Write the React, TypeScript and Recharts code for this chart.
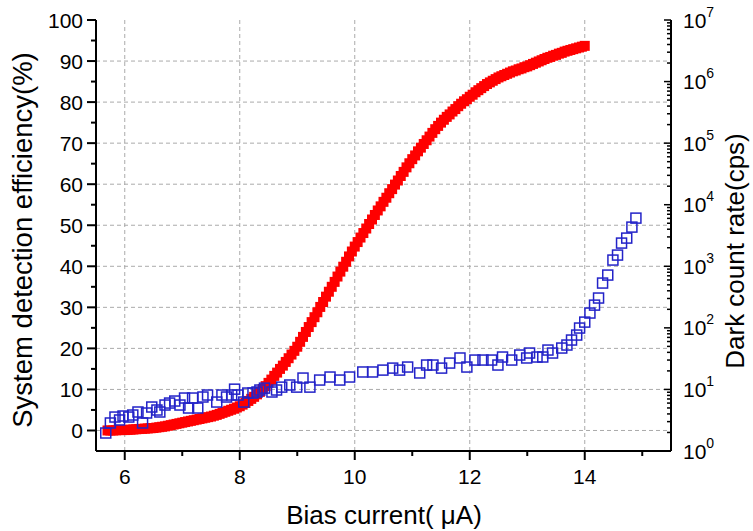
import React from 'react'
import {
  ScatterChart,
  Scatter,
  XAxis,
  YAxis,
  CartesianGrid
} from 'recharts'

// efficiency curve (filled red squares), one row per µA
const effBias = [
  5.7, 5.75, 5.8, 5.85, 5.9, 5.95,
  6.0, 6.05, 6.1, 6.15, 6.2, 6.25, 6.3, 6.35, 6.4, 6.45, 6.5, 6.55, 6.6, 6.65, 6.7, 6.75, 6.8, 6.85, 6.9, 6.95,
  7.0, 7.05, 7.1, 7.15, 7.2, 7.25, 7.3, 7.35, 7.4, 7.45, 7.5, 7.55, 7.6, 7.65, 7.7, 7.75, 7.8, 7.85, 7.9, 7.95,
  8.0, 8.05, 8.1, 8.15, 8.2, 8.25, 8.3, 8.35, 8.4, 8.45, 8.5, 8.55, 8.6, 8.65, 8.7, 8.75, 8.8, 8.85, 8.9, 8.95,
  9.0, 9.05, 9.1, 9.15, 9.2, 9.25, 9.3, 9.35, 9.4, 9.45, 9.5, 9.55, 9.6, 9.65, 9.7, 9.75, 9.8, 9.85, 9.9, 9.95,
  10.0, 10.05, 10.1, 10.15, 10.2, 10.25, 10.3, 10.35, 10.4, 10.45, 10.5, 10.55, 10.6, 10.65, 10.7, 10.75, 10.8, 10.85, 10.9, 10.95,
  11.0, 11.05, 11.1, 11.15, 11.2, 11.25, 11.3, 11.35, 11.4, 11.45, 11.5, 11.55, 11.6, 11.65, 11.7, 11.75, 11.8, 11.85, 11.9, 11.95,
  12.0, 12.05, 12.1, 12.15, 12.2, 12.25, 12.3, 12.35, 12.4, 12.45, 12.5, 12.55, 12.6, 12.65, 12.7, 12.75, 12.8, 12.85, 12.9, 12.95,
  13.0, 13.05, 13.1, 13.15, 13.2, 13.25, 13.3, 13.35, 13.4, 13.45, 13.5, 13.55, 13.6, 13.65, 13.7, 13.75, 13.8, 13.85, 13.9, 13.95,
  14.0
]
const efficiency = [
  0.0, 0.0, 0.0, 0.05, 0.1, 0.1,
  0.1, 0.15, 0.2, 0.25, 0.3, 0.35, 0.4, 0.45, 0.5, 0.55, 0.6, 0.7, 0.8, 0.9, 1.0, 1.15, 1.3, 1.45, 1.6, 1.75,
  1.9, 2.05, 2.2, 2.35, 2.5, 2.65, 2.8, 2.95, 3.1, 3.25, 3.4, 3.6, 3.8, 4.05, 4.3, 4.55, 4.8, 5.05, 5.3, 5.6,
  5.9, 6.3, 6.7, 7.2, 7.7, 8.2, 8.8, 9.4, 10.1, 10.8, 11.6, 12.4, 13.3, 14.1, 15.0, 15.8, 16.7, 17.6, 18.5, 19.4,
  20.4, 21.6, 22.8, 24.0, 25.2, 26.4, 27.6, 28.8, 30.1, 31.3, 32.6, 33.8, 35.0, 36.2, 37.5, 38.7, 39.9, 41.1, 42.4, 43.6,
  44.8, 45.9, 47.0, 48.1, 49.2, 50.3, 51.4, 52.5, 53.6, 54.6, 55.7, 56.7, 57.8, 58.8, 59.9, 60.9, 62.0, 63.0, 64.1, 65.1,
  66.1, 67.0, 68.0, 68.9, 69.8, 70.7, 71.6, 72.5, 73.4, 74.2, 75.0, 75.7, 76.4, 77.0, 77.7, 78.3, 79.0, 79.6, 80.2, 80.7,
  81.3, 81.8, 82.4, 82.9, 83.4, 83.9, 84.4, 84.8, 85.2, 85.6, 86.0, 86.3, 86.6, 86.9, 87.2, 87.5, 87.7, 88.0, 88.2, 88.5,
  88.7, 89.0, 89.3, 89.6, 89.9, 90.2, 90.5, 90.8, 91.0, 91.3, 91.5, 91.8, 92.0, 92.3, 92.5, 92.7, 92.9, 93.1, 93.3, 93.5,
  93.7
]

// dark count rate (open blue squares)
const darkBias = [
  5.67, 5.75, 5.83, 5.91, 5.97, 6.07, 6.14, 6.23, 6.31, 6.38, 6.47, 6.56,
  6.61, 6.70, 6.78, 6.87, 6.96, 7.04, 7.11, 7.18, 7.27, 7.36, 7.44, 7.60,
  7.69, 7.77, 7.86, 7.91, 7.97, 8.07, 8.14, 8.23, 8.30, 8.35, 8.43, 8.56,
  8.64, 8.73, 8.87, 8.99, 9.10, 9.22, 9.39, 9.57, 9.74, 9.91, 10.14, 10.31,
  10.49, 10.66, 10.78, 10.92, 11.13, 11.25, 11.36, 11.51, 11.65, 11.83, 11.95, 12.09,
  12.23, 12.38, 12.49, 12.57, 12.73, 12.87, 12.99, 13.04, 13.17, 13.27, 13.36, 13.44,
  13.60, 13.69, 13.77, 13.86, 13.91, 14.00, 14.09, 14.17, 14.24, 14.31, 14.40, 14.49,
  14.57, 14.64, 14.73, 14.82, 14.89
]
const darkCount = [
  1.96, 2.85, 3.56, 3.19, 3.7, 3.56, 3.84, 4.3, 2.85, 4.14, 5.18, 4.63,
  4.3, 5.58, 6.01, 6.48, 5.58, 7.25, 4.99, 7.25, 4.99, 7.53, 8.11, 6.24,
  8.11, 7.53, 8.11, 10.1, 8.11, 6.24, 8.74, 8.74, 9.08, 9.78, 10.5, 9.08,
  9.78, 10.9, 11.8, 10.9, 15.3, 10.9, 14.2, 15.9, 14.2, 15.9, 19.2, 19.2,
  20.6, 22.2, 20.6, 23.1, 18.5, 24.9, 24.9, 22.2, 26.8, 32.4, 23.1, 30.0,
  30.0, 30.0, 24.9, 33.6, 30.0, 36.2, 32.4, 39.0, 33.6, 33.6, 43.6, 39.0,
  47.0, 52.6, 63.4, 76.4, 99.3, 124, 174, 234, 305, 534, 720, 1262,
  1521, 2382, 2871, 4329, 6059
]

const xTicks = [6, 7, 8, 9, 10, 11, 12, 13, 14, 15]
const effTicks = [0, 5, 10, 15, 20, 25, 30, 35, 40, 45, 50, 55, 60, 65, 70, 75, 80, 85, 90, 95, 100]
const gridY = [0, 10, 20, 30, 40, 50, 60, 70, 80, 90]
const gridX = [6, 8, 10, 12, 14]
const decades = [0, 1, 2, 3, 4, 5, 6, 7]

const logTicks: number[] = []
decades.forEach((d) => {
  if (d === 7) {
    logTicks.push(1e7)
    return
  }
  for (let m = 1; m <= 9; m++) logTicks.push(m * Math.pow(10, d))
})

const effData = effBias.map((x, i) => ({ x, y: efficiency[i] }))
const darkData = darkBias.map((x, i) => ({ x, y: darkCount[i] }))

const FONT = 'Arial, "Liberation Sans", sans-serif'
const AXIS = { stroke: '#000', strokeWidth: 2 }

const BottomTick = ({ x, y, payload }: any) => {
  const major = payload.value % 2 === 0
  return (
    <g>
      <line x1={x} x2={x} y1={y} y2={y + (major ? 9 : 5)} stroke="#000" strokeWidth={2} />
      {major && (
        <text x={x} y={y + 33} textAnchor="middle" fontSize={21} fontFamily={FONT} fill="#000">
          {payload.value}
        </text>
      )}
    </g>
  )
}

const TopTick = ({ x, y, payload }: any) => {
  const major = payload.value % 2 === 0
  return <line x1={x} x2={x} y1={y} y2={y + (major ? 8 : 5)} stroke="#000" strokeWidth={2} />
}

const LeftTick = ({ x, y, payload }: any) => {
  const major = payload.value % 10 === 0
  return (
    <g>
      <line x1={x} x2={x - (major ? 9 : 5)} y1={y} y2={y} stroke="#000" strokeWidth={2} />
      {major && (
        <text x={x - 13} y={y + 7.5} textAnchor="end" fontSize={21} fontFamily={FONT} fill="#000">
          {payload.value}
        </text>
      )}
    </g>
  )
}

const RightTick = ({ x, y, payload }: any) => {
  const exp = Math.log10(payload.value)
  const major = Math.abs(exp - Math.round(exp)) < 1e-6
  return (
    <g>
      <line x1={x} x2={x - (major ? 7 : 4)} y1={y} y2={y} stroke="#000" strokeWidth={1.5} />
      {major && (
        <text x={x + 12} y={y + 7.5} fontSize={21} fontFamily={FONT} fill="#000">
          <tspan>10</tspan>
          <tspan dy={-11} fontSize={14}>{Math.round(exp)}</tspan>
        </text>
      )}
    </g>
  )
}

const FilledSquare = ({ cx, cy }: any) => (
  <rect x={cx - 5} y={cy - 5} width={10} height={10} fill="#ff0000" />
)

const OpenSquare = ({ cx, cy }: any) => (
  <rect x={cx - 5} y={cy - 5} width={10} height={10} fill="none" stroke="#2323c8" strokeWidth={1.5} />
)

const title: React.CSSProperties = {
  position: 'absolute',
  fontFamily: FONT,
  fontSize: 26,
  whiteSpace: 'nowrap',
  color: '#000'
}

export default function App() {
  return (
    <div style={{ position: 'absolute', left: 0, top: 0, width: 753, height: 531, background: '#fff' }}>
      <ScatterChart width={753} height={531} margin={{ top: 20, right: 0, bottom: 0, left: 0 }}>
        <CartesianGrid
          xAxisId="bottom"
          yAxisId="left"
          stroke="#aaa"
          strokeDasharray="4 3"
          horizontalValues={gridY}
          verticalValues={gridX}
        />
        <XAxis
          xAxisId="bottom"
          type="number"
          dataKey="x"
          domain={[5.5, 15.5]}
          ticks={xTicks}
          interval={0}
          height={80}
          tickSize={0}
          tickMargin={0}
          tickLine={false}
          axisLine={AXIS}
          tick={<BottomTick />}
          allowDataOverflow
        />
        <XAxis
          xAxisId="top"
          orientation="top"
          type="number"
          dataKey="x"
          domain={[5.5, 15.5]}
          ticks={xTicks}
          interval={0}
          height={0}
          tickSize={0}
          tickMargin={0}
          tickLine={false}
          axisLine={AXIS}
          tick={<TopTick />}
          allowDataOverflow
        />
        <YAxis
          yAxisId="left"
          type="number"
          dataKey="y"
          domain={[-5, 100]}
          ticks={effTicks}
          interval={0}
          width={96}
          tickSize={0}
          tickMargin={0}
          tickLine={false}
          axisLine={AXIS}
          tick={<LeftTick />}
          allowDataOverflow
        />
        <YAxis
          yAxisId="right"
          orientation="right"
          type="number"
          dataKey="y"
          scale="log"
          domain={[1, 1e7]}
          ticks={logTicks}
          interval={0}
          width={82}
          tickSize={0}
          tickMargin={0}
          tickLine={false}
          axisLine={AXIS}
          tick={<RightTick />}
          allowDataOverflow
        />
        <Scatter
          xAxisId="bottom"
          yAxisId="left"
          data={effData}
          shape={<FilledSquare />}
          isAnimationActive={false}
        />
        <Scatter
          xAxisId="bottom"
          yAxisId="right"
          data={darkData}
          shape={<OpenSquare />}
          isAnimationActive={false}
        />
      </ScatterChart>
      <div style={{ ...title, fontSize: 27.5, left: 23, top: 240, transform: 'translate(-50%, -50%) rotate(-90deg)' }}>
        System detection efficiency(%)
      </div>
      <div style={{ ...title, left: 735, top: 251, transform: 'translate(-50%, -50%) rotate(-90deg)' }}>
        Dark count rate(cps)
      </div>
      <div style={{ ...title, left: 384, top: 515, transform: 'translate(-50%, -50%)' }}>
        Bias current( μA)
      </div>
    </div>
  )
}
